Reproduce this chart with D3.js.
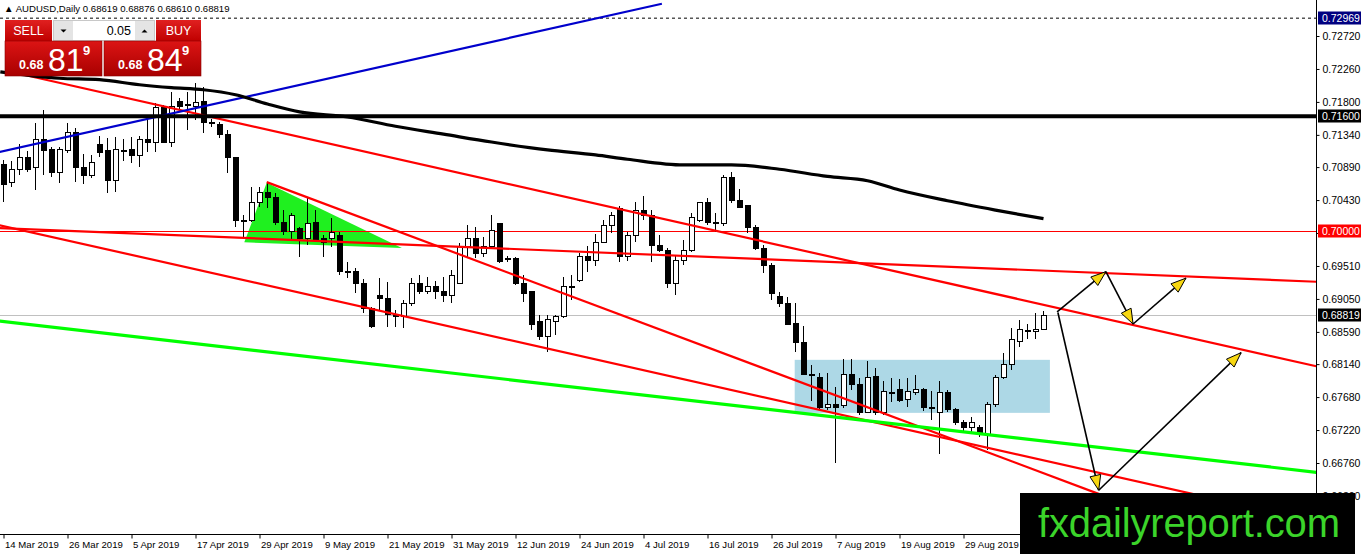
<!DOCTYPE html>
<html>
<head>
<meta charset="utf-8">
<script src="https://cdn.jsdelivr.net/npm/d3@7"></script>
<style>
body { margin: 0; background: #fff; overflow: hidden; }
text { font-family: Tahoma, "Liberation Sans", Arial, sans-serif; }
</style>
</head>
<body>
<script>
// chart values (AUDUSD daily, bar 0 = 14 Mar 2019)
const symbol = "AUDUSD,Daily";
const opens = [0.7093,0.7067,0.7086,0.7102,0.7088,0.7128,0.7113,0.7081,0.7112,0.7137,
  0.7088,0.7077,0.7120,0.7112,0.7070,0.7112,0.7113,0.7105,0.7127,0.7123,
  0.7172,0.7124,0.7180,0.7176,0.7174,0.7180,0.7151,0.7149,0.7134,0.7102,
  0.7015,0.7015,0.7039,0.7054,0.7047,0.7012,0.6999,0.7004,0.6990,0.7011,
  0.6989,0.6989,0.6994,0.6943,0.6943,0.6927,0.6892,0.6910,0.6906,0.6883,
  0.6880,0.6899,0.6927,0.6916,0.6923,0.6916,0.6910,0.6927,0.6978,0.6990,
  0.6969,0.6978,0.7010,0.6961,0.6962,0.6927,0.6915,0.6874,0.6852,0.6874,
  0.6880,0.6923,0.6931,0.6964,0.6959,0.6984,0.7008,0.7031,0.6964,0.6994,
  0.7029,0.7022,0.6979,0.6972,0.6927,0.6958,0.6973,0.7014,0.7039,0.7012,
  0.7010,0.7075,0.7042,0.7035,0.7005,0.6976,0.6951,0.6909,0.6899,0.6871,
  0.6844,0.6800,0.6795,0.6754,0.6758,0.6756,0.6800,0.6785,0.6747,0.6797,
  0.6746,0.6775,0.6778,0.6764,0.6775,0.6779,0.6754,0.6747,0.6774,0.6750,
  0.6732,0.6726,0.6726,0.6715,0.6757,0.6796,0.6813,0.6845,0.6861,0.6859,
  0.68619];
const highs = [0.7099,0.7098,0.7121,0.7112,0.7151,0.7169,0.7117,0.7117,0.7151,0.7144,
  0.7107,0.7106,0.7132,0.7130,0.7131,0.7128,0.7131,0.7132,0.7158,0.7179,
  0.7176,0.7194,0.7186,0.7194,0.7206,0.7201,0.7156,0.7152,0.7141,0.7103,
  0.7022,0.7061,0.7061,0.7068,0.7053,0.7029,0.7025,0.7005,0.7047,0.7029,
  0.6994,0.7018,0.6998,0.6957,0.6948,0.6933,0.6894,0.6934,0.6929,0.6890,
  0.6904,0.6934,0.6938,0.6936,0.6930,0.6936,0.6945,0.6983,0.7008,0.7005,
  0.6991,0.7022,0.7011,0.6965,0.6964,0.6938,0.6916,0.6883,0.6883,0.6883,
  0.6936,0.6938,0.6969,0.6979,0.6996,0.7015,0.7026,0.7035,0.6999,0.7040,
  0.7049,0.7029,0.6994,0.6976,0.6966,0.6987,0.7025,0.7040,0.7046,0.7025,
  0.7078,0.7082,0.7058,0.7036,0.7008,0.6980,0.6955,0.6915,0.6908,0.6899,
  0.6867,0.6813,0.6802,0.6802,0.6782,0.6821,0.6821,0.6795,0.6818,0.6809,
  0.6790,0.6795,0.6793,0.6795,0.6799,0.6780,0.6776,0.6790,0.6778,0.6753,
  0.6736,0.6740,0.6729,0.6761,0.6799,0.6830,0.6864,0.6876,0.6870,0.6885,
  0.68876];
const lows = [0.7040,0.7061,0.7078,0.7082,0.7057,0.7078,0.7075,0.7067,0.7109,0.7068,
  0.7065,0.7074,0.7103,0.7053,0.7054,0.7098,0.7095,0.7089,0.7110,0.7110,
  0.7123,0.7117,0.7169,0.7141,0.7155,0.7137,0.7145,0.7130,0.7081,0.7005,
  0.6991,0.7012,0.7033,0.7032,0.7008,0.6994,0.6987,0.6964,0.6980,0.6984,
  0.6964,0.6977,0.6938,0.6934,0.6913,0.6885,0.6864,0.6890,0.6866,0.6866,
  0.6864,0.6895,0.6912,0.6912,0.6905,0.6901,0.6899,0.6926,0.6964,0.6962,
  0.6964,0.6976,0.6955,0.6957,0.6924,0.6901,0.6862,0.6848,0.6831,0.6855,
  0.6878,0.6904,0.6929,0.6943,0.6951,0.6983,0.6997,0.6957,0.6958,0.6984,
  0.7015,0.6957,0.6971,0.6920,0.6910,0.6952,0.6971,0.7012,0.7008,0.6999,
  0.7007,0.7039,0.7032,0.6997,0.6973,0.6941,0.6904,0.6894,0.6869,0.6831,
  0.6799,0.6763,0.6751,0.6750,0.6676,0.6753,0.6778,0.6743,0.6746,0.6743,
  0.6743,0.6761,0.6761,0.6754,0.6771,0.6749,0.6736,0.6689,0.6747,0.6729,
  0.6718,0.6718,0.6712,0.6694,0.6754,0.6793,0.6806,0.6838,0.6849,0.6849,
  0.68610];
const closes = [0.7065,0.7085,0.7102,0.7086,0.7128,0.7112,0.7081,0.7113,0.7137,0.7088,
  0.7077,0.7096,0.7110,0.7071,0.7113,0.7111,0.7105,0.7127,0.7123,0.7172,
  0.7124,0.7173,0.7173,0.7175,0.7179,0.7151,0.7150,0.7134,0.7102,0.7015,
  0.7014,0.7039,0.7054,0.7047,0.7012,0.6999,0.7022,0.6990,0.7010,0.6987,
  0.6984,0.6998,0.6943,0.6942,0.6927,0.6891,0.6866,0.6906,0.6883,0.6880,
  0.6899,0.6926,0.6915,0.6922,0.6915,0.6910,0.6938,0.6978,0.6990,0.6969,
  0.6978,0.7001,0.6957,0.6960,0.6926,0.6913,0.6870,0.6852,0.6876,0.6880,
  0.6923,0.6922,0.6964,0.6959,0.6984,0.7008,0.7022,0.6964,0.6994,0.7029,
  0.7022,0.6980,0.6972,0.6927,0.6959,0.6972,0.7019,0.7039,0.7011,0.7010,
  0.7075,0.7042,0.7033,0.7005,0.6976,0.6951,0.6912,0.6899,0.6870,0.6844,
  0.6800,0.6799,0.6754,0.6757,0.6754,0.6800,0.6786,0.6747,0.6796,0.6747,
  0.6776,0.6774,0.6763,0.6776,0.6779,0.6754,0.6753,0.6774,0.6750,0.6732,
  0.6725,0.6732,0.6719,0.6758,0.6796,0.6813,0.6848,0.6862,0.6860,0.6862,
  0.68819];

const xTickBars = [0,8,16,24,32,40,48,56,64,72,80,88,96,104,112,120];
const xTickLabels = ["14 Mar 2019","26 Mar 2019","5 Apr 2019","17 Apr 2019","29 Apr 2019",
  "9 May 2019","21 May 2019","31 May 2019","12 Jun 2019","24 Jun 2019","4 Jul 2019",
  "16 Jul 2019","26 Jul 2019","7 Aug 2019","19 Aug 2019","29 Aug 2019"];
const yTicks = [0.72720,0.72260,0.71800,0.71340,0.70890,0.70430,0.69970,0.69510,
  0.69050,0.68590,0.68140,0.67680,0.67220,0.66760,0.66300];

// moving average, [bar, price]
const maLine = [[-0.4,0.7222],[7,0.7213],[12,0.7211],[17,0.7204],[21,0.7200],[25,0.7197],
  [29,0.7190],[33,0.7177],[37,0.7166],[43,0.7159],[49,0.7146],[55,0.7135],[61,0.7124],
  [68,0.7113],[74,0.7106],[78,0.7100],[85,0.7092],[91,0.7092],[97,0.7086],[103,0.7076],
  [108,0.7070],[112,0.7057],[118,0.7042],[124,0.7029],[130,0.7017]];

// drawn objects, [bar, price]
const blueLine = [[-0.5,0.7110],[82.3,0.7317]];
const redLines = [
  [[2.1,0.7219],[164.1,0.6811]],   // upper channel
  [[-0.5,0.7008],[164.1,0.6594]],  // lower channel
  [[32.9,0.7068],[138.3,0.6627]],  // from triangle top
  [[-0.5,0.7004],[164.1,0.6929]]   // long flat line
];
const greenLine = [[-0.5,0.6874],[164.1,0.6663]];
const triangle = [[32.9,0.7067],[30.1,0.6984],[49.8,0.6976]];
const zoneBox = {bar0: 98.9, bar1: 130.8, top: 0.6820, bottom: 0.6746};
const arrows = [
  [[131.7,0.6887],[137.8,0.6943]],
  [[137.8,0.6943],[141.2,0.6870]],
  [[141.2,0.6870],[147.8,0.6934]],
  [[131.8,0.6886],[136.9,0.6638]],
  [[136.9,0.6638],[154.7,0.6830]]
];
const levels = [
  {price: 0.72969, bg: "#000080"},
  {price: 0.71600, bg: "#000000"},
  {price: 0.70000, bg: "#ff0000"},
  {price: 0.68819, bg: "#000000"}
];
const bidParts = ["0.68", "81", "9"];
const askParts = ["0.68", "84", "9"];
const lotSize = "0.05";

const w = 1362;
const h = 554;
const axisX = 1316;
const axisY = 534;

const svg = d3.select("body")
    .append("svg")
    .attr("width", w)
    .attr("height", h);

const x = d3.scaleLinear().domain([0, 130]).range([3.5, 1043.5]);
const y = d3.scaleLinear().domain([0.6676, 0.7272]).range([463, 36]);

const line = d3.line()
    .x(function (d) { return x(d[0]); })
    .y(function (d) { return y(d[1]); });

const plot = svg.append("g");

// filled objects sit behind the bars
plot.append("rect")
    .attr("x", x(zoneBox.bar0))
    .attr("y", y(zoneBox.top))
    .attr("width", x(zoneBox.bar1) - x(zoneBox.bar0))
    .attr("height", y(zoneBox.bottom) - y(zoneBox.top))
    .attr("fill", "#add8e6");

plot.append("path")
    .attr("d", line(triangle) + "Z")
    .attr("fill", "#1ff01f");

// horizontal levels
plot.append("line")
    .attr("x1", 0).attr("x2", axisX)
    .attr("y1", y(levels[0].price)).attr("y2", y(levels[0].price))
    .attr("stroke", "#000").attr("stroke-dasharray", "3,3");

plot.append("line")
    .attr("x1", 0).attr("x2", axisX)
    .attr("y1", Math.round(y(levels[2].price)) + 0.5).attr("y2", Math.round(y(levels[2].price)) + 0.5)
    .attr("stroke", "#ff0000");

plot.append("line")
    .attr("x1", 0).attr("x2", axisX)
    .attr("y1", Math.round(y(levels[3].price)) + 0.5).attr("y2", Math.round(y(levels[3].price)) + 0.5)
    .attr("stroke", "#c0c0c0");

// candles
const bars = d3.range(opens.length);
const candle = plot.append("g")
    .attr("shape-rendering", "crispEdges")
    .selectAll("g")
    .data(bars)
    .enter()
    .append("g");

candle.append("line")
    .attr("x1", function (i) { return x(i); })
    .attr("x2", function (i) { return x(i); })
    .attr("y1", function (i) { return y(highs[i]); })
    .attr("y2", function (i) { return y(lows[i]); })
    .attr("stroke", "#000");

candle.append("rect")
    .attr("x", function (i) { return x(i) - 2.5; })
    .attr("width", 5)
    .attr("y", function (i) { return y(Math.max(opens[i], closes[i])); })
    .attr("height", function (i) {
        return Math.max(1, Math.abs(y(opens[i]) - y(closes[i])));
    })
    .attr("fill", function (i) { return closes[i] < opens[i] ? "#000" : "#fff"; })
    .attr("stroke", "#000");

// trend lines and indicator on top
redLines.forEach(function (d) {
    plot.append("path").attr("d", line(d))
        .attr("stroke", "#ff0000").attr("stroke-width", 2.2).attr("fill", "none");
});

plot.append("path").attr("d", line(greenLine))
    .attr("stroke", "#00ff00").attr("stroke-width", 3.2).attr("fill", "none");

plot.append("path").attr("d", line(blueLine))
    .attr("stroke", "#0000cc").attr("stroke-width", 2.2).attr("fill", "none");

plot.append("path").attr("d", line.curve(d3.curveMonotoneX)(maLine))
    .attr("stroke", "#000").attr("stroke-width", 3.2).attr("fill", "none");
line.curve(d3.curveLinear);

plot.append("line")
    .attr("x1", 0).attr("x2", axisX)
    .attr("y1", y(levels[1].price)).attr("y2", y(levels[1].price))
    .attr("stroke", "#000").attr("stroke-width", 4);

// arrows with yellow heads
arrows.forEach(function (d) {
    const x1 = x(d[0][0]), y1 = y(d[0][1]);
    const x2 = x(d[1][0]), y2 = y(d[1][1]);
    plot.append("line")
        .attr("x1", x1).attr("y1", y1).attr("x2", x2).attr("y2", y2)
        .attr("stroke", "#000").attr("stroke-width", 1.6);
    const a = Math.atan2(y2 - y1, x2 - x1);
    const len = 15, half = 5.5;
    const bx = x2 - len * Math.cos(a), by = y2 - len * Math.sin(a);
    const pts = [[x2, y2],
        [bx + half * Math.sin(a), by - half * Math.cos(a)],
        [bx - half * Math.sin(a), by + half * Math.cos(a)]];
    plot.append("polygon")
        .attr("points", pts.map(function (p) { return p.join(","); }).join(" "))
        .attr("fill", "#f7d711").attr("stroke", "#000").attr("stroke-width", 1);
});

// axes
svg.append("rect").attr("x", axisX + 1).attr("y", 0).attr("width", w - axisX).attr("height", h).attr("fill", "#fff");
svg.append("rect").attr("x", 0).attr("y", axisY + 1).attr("width", w).attr("height", h - axisY).attr("fill", "#fff");

const yAxis = svg.append("g")
    .attr("transform", "translate(" + (axisX + 0.5) + ",0)")
    .call(d3.axisRight(y).tickValues(yTicks).tickFormat(d3.format(".5f")).tickSize(3).tickPadding(3).tickSizeOuter(0));
yAxis.select(".domain").remove();
yAxis.selectAll("text").attr("font-size", 10.5).attr("fill", "#000")
    .attr("font-family", "Tahoma, 'Liberation Sans', Arial, sans-serif");

const xAxis = svg.append("g")
    .attr("transform", "translate(0," + (axisY + 0.5) + ")")
    .call(d3.axisBottom(x).tickValues(xTickBars)
        .tickFormat(function (d, i) { return xTickLabels[i]; })
        .tickSize(4).tickPadding(3).tickSizeOuter(0));
xAxis.select(".domain").remove();
xAxis.selectAll("text").attr("font-size", 9.6).attr("fill", "#000")
    .attr("text-anchor", "start").attr("dx", 1)
    .attr("font-family", "Tahoma, 'Liberation Sans', Arial, sans-serif");

svg.append("line").attr("x1", axisX + 0.5).attr("x2", axisX + 0.5).attr("y1", 0).attr("y2", axisY + 1)
    .attr("stroke", "#000");
svg.append("line").attr("x1", 0).attr("x2", axisX + 1).attr("y1", axisY + 0.5).attr("y2", axisY + 0.5)
    .attr("stroke", "#000");

// price tags on the right
const tag = svg.selectAll(".tag")
    .data(levels)
    .enter()
    .append("g")
    .attr("class", "tag")
    .attr("transform", function (d) { return "translate(" + (axisX + 2) + "," + Math.round(y(d.price)) + ")"; });
tag.append("rect")
    .attr("x", 0).attr("y", -6.5).attr("width", 43).attr("height", 13)
    .attr("fill", function (d) { return d.bg; });
tag.append("text")
    .attr("x", 4).attr("y", 4)
    .attr("font-size", 10.5).attr("fill", "#fff")
    .text(function (d) { return d3.format(".5f")(d.price); });

// header
const last = opens.length - 1;
svg.append("text")
    .attr("x", 4).attr("y", 12)
    .attr("font-size", 9.6)
    .attr("fill", "#000")
    .text("\u25B2 " + symbol + "  " + [opens[last], highs[last], lows[last], closes[last]]
        .map(d3.format(".5f")).join(" "));

// one-click trading panel
const defs = svg.append("defs");
const grad = defs.append("linearGradient").attr("id", "redbox").attr("x1", 0).attr("x2", 0).attr("y1", 0).attr("y2", 1);
grad.append("stop").attr("offset", "0%").attr("stop-color", "#dc1414");
grad.append("stop").attr("offset", "100%").attr("stop-color", "#a80000");
const grad2 = defs.append("linearGradient").attr("id", "redbtn").attr("x1", 0).attr("x2", 0).attr("y1", 0).attr("y2", 1);
grad2.append("stop").attr("offset", "0%").attr("stop-color", "#e02020");
grad2.append("stop").attr("offset", "100%").attr("stop-color", "#c00000");

const panel = svg.append("g").attr("transform", "translate(5,20)");
panel.append("rect").attr("x", 0).attr("y", 0).attr("width", 47).attr("height", 21).attr("fill", "url(#redbtn)");
panel.append("rect").attr("x", 151).attr("y", 0).attr("width", 45).attr("height", 21).attr("fill", "url(#redbtn)");
panel.append("text").attr("x", 23.5).attr("y", 15).attr("text-anchor", "middle")
    .attr("font-size", 12.5).attr("fill", "#fff").text("SELL");
panel.append("text").attr("x", 173.5).attr("y", 15).attr("text-anchor", "middle")
    .attr("font-size", 12.5).attr("fill", "#fff").text("BUY");

panel.append("rect").attr("x", 48.5).attr("y", 0.5).attr("width", 101).attr("height", 20)
    .attr("fill", "#fff").attr("stroke", "#c8c8c8");
panel.append("rect").attr("x", 49).attr("y", 1).attr("width", 19).attr("height", 19).attr("fill", "#e4e4e4");
panel.append("rect").attr("x", 130).attr("y", 1).attr("width", 19).attr("height", 19).attr("fill", "#e4e4e4");
panel.append("path").attr("d", "M55.5,9.5 L61.5,9.5 L58.5,12.5 Z").attr("fill", "#000");
panel.append("path").attr("d", "M136.5,12.5 L142.5,12.5 L139.5,9.5 Z").attr("fill", "#000");
panel.append("text").attr("x", 126).attr("y", 15).attr("text-anchor", "end")
    .attr("font-size", 12.5).attr("fill", "#000").text(lotSize);

const boxes = [{x: 0, w: 97, parts: bidParts}, {x: 99, w: 97, parts: askParts}];
boxes.forEach(function (b) {
    panel.append("rect").attr("x", b.x).attr("y", 21).attr("width", b.w).attr("height", 35)
        .attr("fill", "url(#redbox)").attr("stroke", "#8a0000").attr("stroke-width", 0.6);
    panel.append("text").attr("x", b.x + 14).attr("y", 49).attr("font-size", 12.5)
        .attr("font-weight", "bold").attr("fill", "#fff").text(b.parts[0]);
    panel.append("text").attr("x", b.x + 43).attr("y", 51).attr("font-size", 32)
        .attr("fill", "#fff").text(b.parts[1]);
    panel.append("text").attr("x", b.x + 78).attr("y", 35).attr("font-size", 13)
        .attr("font-weight", "bold").attr("fill", "#fff").text(b.parts[2]);
});

// watermark
svg.append("rect").attr("x", 1020).attr("y", 493).attr("width", 335).attr("height", 61).attr("fill", "#000");
svg.append("text")
    .attr("x", 1038).attr("y", 537)
    .attr("font-size", 40)
    .attr("font-family", "'Liberation Sans', Arial, sans-serif")
    .attr("fill", "#3bd42a")
    .attr("textLength", 302)
    .text("fxdailyreport.com");
</script>
</body>
</html>
